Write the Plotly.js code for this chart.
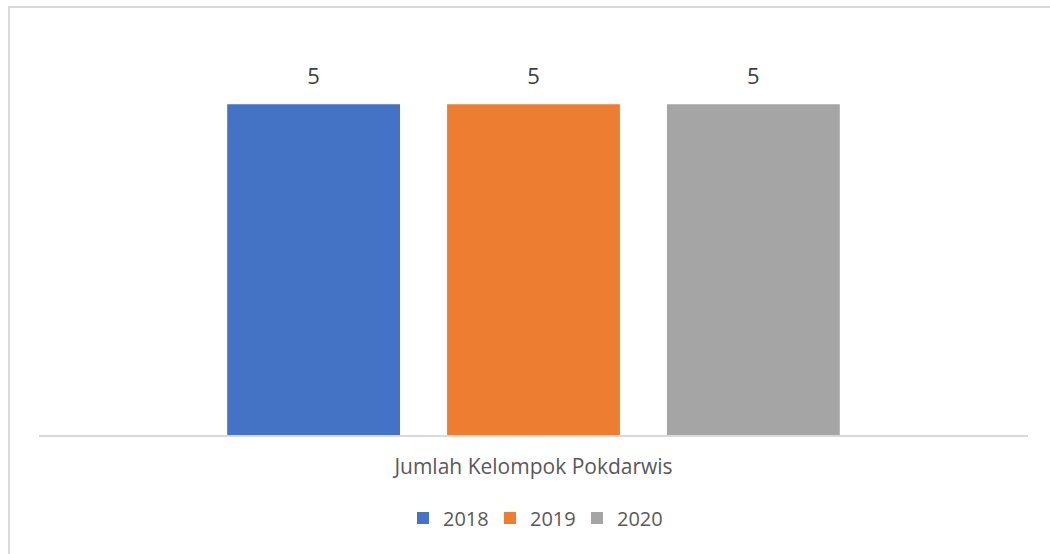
<!DOCTYPE html>
<html>
<head>
<meta charset="utf-8">
<script src="https://cdn.plot.ly/plotly-3.0.1.min.js"></script>
<style>html,body{margin:0;padding:0;background:#fff;}#chart{width:1050px;height:554px;}</style>
</head>
<body>
<div id="chart"></div>
<script>
const categories = ["Jumlah Kelompok Pokdarwis"];
const seriesNames = ["2018", "2019", "2020"];
const values2018 = [5];
const values2019 = [5];
const values2020 = [5];
const colors = ["#4472C4", "#ED7D31", "#A5A5A5"];

const seriesValues = [values2018, values2019, values2020];
const bars = seriesNames.map((name, i) => ({
  type: 'bar',
  name: name,
  x: categories,
  y: seriesValues[i],
  marker: {color: colors[i]},
  offsetgroup: name,
  alignmentgroup: 'a',
  hoverinfo: 'none'
}));
const labels = seriesNames.map((name, i) => ({
  type: 'scatter',
  mode: 'markers+text',
  name: name + ' label',
  x: categories,
  y: seriesValues[i],
  offsetgroup: name,
  alignmentgroup: 'a',
  marker: {size: 22, opacity: 0, color: colors[i]},
  text: seriesValues[i].map(String),
  textposition: 'top center',
  cliponaxis: false,
  textfont: {size: 22, color: '#404040', family: 'Open Sans, sans-serif'},
  showlegend: false,
  hoverinfo: 'none'
}));
const data = bars.concat(labels);

const L = 39, R = 1028, T = 38, B = 435;
const W = R - L, H = B - T;
const px = v => (v - L) / W;
const py = v => (B - v) / H;

const layout = {
  width: 1050, height: 554,
  margin: {l: L, r: 1050 - R, t: T, b: 554 - B, pad: 0},
  paper_bgcolor: '#ffffff', plot_bgcolor: '#ffffff',
  font: {family: 'Open Sans, sans-serif', color: '#595959'},
  barmode: 'group',
  scattermode: 'group',
  bargap: 0.333,
  bargroupgap: 0.214,
  scattergap: 0.333,
  showlegend: true,
  legend: {orientation: 'h', x: 0.5, xanchor: 'center', y: py(518), yanchor: 'middle',
           font: {size: 20, color: '#595959'}, traceorder: 'normal', itemwidth: 30,
           entrywidth: 42, entrywidthmode: 'pixels'},
  xaxis: {showline: true, linecolor: '#d9d9d9', linewidth: 2, ticks: '', showgrid: false,
          tickfont: {size: 21, color: '#595959'}, ticklabelstandoff: 12, fixedrange: true},
  yaxis: {range: [0, 6], visible: false, showgrid: false, zeroline: false, fixedrange: true},
  shapes: [{type: 'rect', xref: 'paper', yref: 'paper', x0: px(9), x1: px(1062), y0: py(7), y1: py(570),
            line: {color: '#d9d9d9', width: 2}, layer: 'below'}]
};

Plotly.newPlot('chart', data, layout, {displayModeBar: false, staticPlot: true});
</script>
</body>
</html>
